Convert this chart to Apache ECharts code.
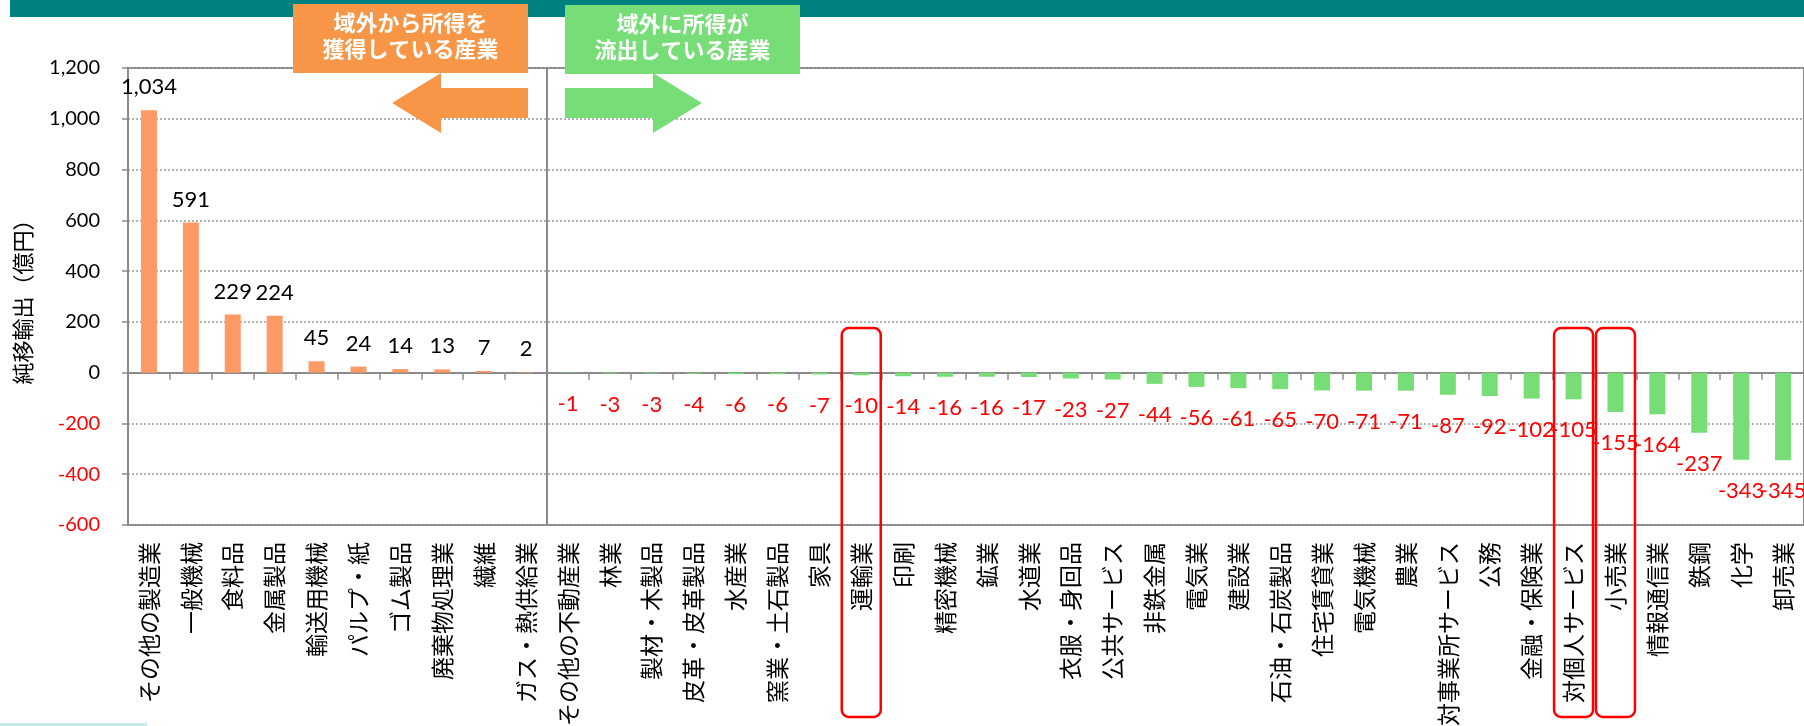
<!DOCTYPE html>
<html>
<head>
<meta charset="utf-8">
<script src="https://cdn.jsdelivr.net/npm/echarts@6/dist/echarts.min.js"></script>
<style>
html,body{margin:0;padding:0;background:#fff;}
#chart{width:1804px;height:726px;}
</style>
</head>
<body>
<div id="chart"></div>
<script>
// ---- data ----
const categories = [
  'その他の製造業','一般機械','食料品','金属製品','輸送用機械','パルプ・紙','ゴム製品','廃棄物処理業','繊維','ガス・熱供給業',
  'その他の不動産業','林業','製材・木製品','皮革・皮革製品','水産業','窯業・土石製品','家具','運輸業','印刷','精密機械',
  '鉱業','水道業','衣服・身回品','公共サービス','非鉄金属','電気業','建設業','石油・石炭製品','住宅賃貸業','電気機械',
  '農業','対事業所サービス','公務','金融・保険業','対個人サービス','小売業','情報通信業','鉄鋼','化学','卸売業'
];
const netExports = [
  1034, 591, 229, 224, 45, 24, 14, 13, 7, 2,
  -1, -3, -3, -4, -6, -6, -7, -10, -14, -16,
  -16, -17, -23, -27, -44, -56, -61, -65, -70, -71,
  -71, -87, -92, -102, -105, -155, -164, -237, -343, -345
];
const yTicks = { min: -600, max: 1200, interval: 200 };
const highlighted = ['運輸業', '対個人サービス', '小売業'];
const boxLeftText = '域外から所得を\n獲得している産業';
const boxRightText = '域外に所得が\n流出している産業';
const yAxisName = '純移輸出（億円）';

// ---- styles ----
const POS_COLOR = '#FF9966';
const NEG_COLOR = '#77DD77';
const GREY = '#8a8a8a';
const fmt = v => v.toLocaleString('en-US');

const chart = echarts.init(document.getElementById('chart'));

const barData = netExports.map(v => ({
  value: v,
  itemStyle: { color: v >= 0 ? POS_COLOR : NEG_COLOR },
  label: v >= 0
    ? { position: 'top', distance: 12, color: '#000' }
    : { position: 'bottom', distance: 20, color: '#FF0000' }
}));

chart.setOption({
  animation: false,
  backgroundColor: '#fff',
  grid: {
    left: 128, right: 0, top: 68, bottom: 201,
    containLabel: false, outerBoundsMode: 'none',
    show: true, borderColor: GREY, borderWidth: 2, backgroundColor: 'transparent'
  },
  xAxis: [
    {
      type: 'category', data: categories, position: 'bottom',
      axisLine: { show: true, onZero: true, lineStyle: { color: GREY, width: 2 } },
      axisTick: { show: true, interval: 0, length: 7, lineStyle: { color: GREY, width: 1.5 } },
      axisLabel: { show: false },
      splitLine: { show: false }
    },
    {
      type: 'category', data: categories, position: 'bottom',
      axisLine: { show: false, onZero: false },
      axisTick: { show: false },
      axisLabel: {
        show: true, interval: 0, rotate: 90, margin: 17,
        fontFamily: '"Noto Sans CJK JP", sans-serif', fontSize: 23, color: '#000'
      },
      splitLine: { show: false }
    }
  ],
  yAxis: {
    type: 'value', min: yTicks.min, max: yTicks.max, interval: yTicks.interval,
    name: yAxisName, nameLocation: 'middle', nameRotate: 90, nameGap: 94,
    nameTextStyle: { fontFamily: '"Noto Sans CJK JP", sans-serif', fontSize: 22, color: '#000' },
    axisLine: { show: true, lineStyle: { color: GREY, width: 2 } },
    axisTick: { show: true, length: 6, lineStyle: { color: GREY, width: 1.5 } },
    axisLabel: {
      margin: 28,
      formatter: v => (v < 0 ? '{r|' : '{k|') + fmt(v) + '}',
      rich: {
        r: { color: '#FF0000', fontFamily: 'Lato, sans-serif', fontSize: 20 },
        k: { color: '#000', fontFamily: 'Lato, sans-serif', fontSize: 20 }
      }
    },
    splitLine: { show: true, lineStyle: { color: '#9a9a9a', width: 1.5, type: [2, 2] } }
  },
  series: [{
    type: 'bar',
    xAxisIndex: 0,
    data: barData,
    barWidth: 16,
    label: {
      show: true,
      fontFamily: 'Lato, sans-serif', fontSize: 22,
      formatter: p => fmt(p.value)
    }
  }]
});

// ---- annotations positioned through the chart's own scales ----
function px(idx, val) { return chart.convertToPixel({ xAxisIndex: 0, yAxisIndex: 0 }, [idx, val]); }
const topY = px(0, yTicks.max)[1];
const botY = px(0, yTicks.min)[1];
const sepX = (px(9, 0)[0] + px(10, 0)[0]) / 2;

const graphics = [
  { type: 'rect', shape: { x: 10, y: 0, width: 1794, height: 17 }, style: { fill: '#00807F' }, z: 10 },
  { type: 'rect', shape: { x: 0, y: 723, width: 147, height: 3 }, style: { fill: '#C8EAEA' }, z: 10 },
  { type: 'line', shape: { x1: sepX, y1: topY, x2: sepX, y2: botY }, style: { stroke: GREY, lineWidth: 2 }, z: 5 },
  // left box + arrow
  { type: 'rect', shape: { x: 293, y: 4, width: 235, height: 69 }, style: { fill: '#F79646' }, z: 20 },
  { type: 'text', x: 410.5, y: 36, style: { text: boxLeftText, fill: '#fff', font: 'bold 22px "Noto Sans CJK JP", sans-serif', align: 'center', verticalAlign: 'middle', lineHeight: 26 }, z: 21 },
  { type: 'polygon', shape: { points: [[392,103],[441,73],[441,88],[528,88],[528,118],[441,118],[441,133]] }, style: { fill: '#F79646' }, z: 20 },
  // right box + arrow
  { type: 'rect', shape: { x: 565, y: 5, width: 235, height: 69 }, style: { fill: '#77DD77' }, z: 20 },
  { type: 'text', x: 682.5, y: 37, style: { text: boxRightText, fill: '#fff', font: 'bold 22px "Noto Sans CJK JP", sans-serif', align: 'center', verticalAlign: 'middle', lineHeight: 26 }, z: 21 },
  { type: 'polygon', shape: { points: [[565,88],[653,88],[653,73],[702,103],[653,133],[653,118],[565,118]] }, style: { fill: '#77DD77' }, z: 20 }
];
highlighted.forEach(name => {
  const i = categories.indexOf(name);
  const cx = px(i, 0)[0];
  graphics.push({
    type: 'rect',
    shape: { x: cx - 19.5, y: 328, width: 39, height: 389, r: 7 },
    style: { fill: 'none', stroke: '#FF0000', lineWidth: 2.5 },
    z: 30
  });
});
chart.setOption({ graphic: graphics });
</script>
</body>
</html>
